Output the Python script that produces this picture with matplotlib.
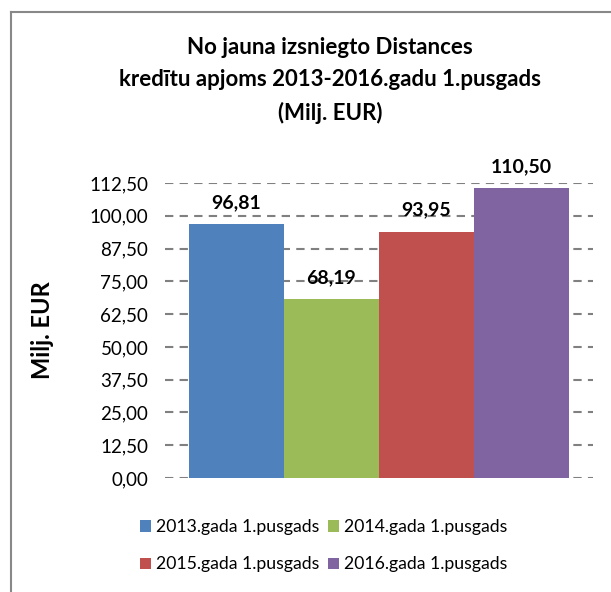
import matplotlib.pyplot as plt
from matplotlib.lines import Line2D

plt.rcParams['font.family'] = ['Lato', 'DejaVu Sans']

categories = ['2013.gada 1.pusgads', '2014.gada 1.pusgads',
              '2015.gada 1.pusgads', '2016.gada 1.pusgads']
values = [96.81, 68.19, 93.95, 110.50]
colors = ['#4f81bd', '#9bbb59', '#c0504d', '#8064a2']
yticks = [0, 12.5, 25, 37.5, 50, 62.5, 75, 87.5, 100, 112.5]

W, H = 611, 592
fig = plt.figure(figsize=(W / 100, H / 100), dpi=100)
ax = fig.add_axes([165 / W, (H - 478) / H, 428 / W, 295 / H])

bars = []
for i, (cat, val, col) in enumerate(zip(categories, values, colors)):
    b = ax.bar(i, val, width=1.0, color=col, label=cat, zorder=3)
    bars.append(b)
    ax.text(i, val + 5, f'{val:.2f}'.replace('.', ','), ha='center', va='bottom',
            fontsize=14, fontweight='bold', color='black')

ax.set_ylim(0, 112.5)
ax.set_xlim(-0.75, 3.75)
ax.set_yticks(yticks)
ax.set_yticklabels([f'{t:.2f}'.replace('.', ',') for t in yticks], fontsize=13.5)
ax.set_xticks([])
ax.tick_params(axis='y', length=0, pad=12)
ax.yaxis.grid(True, color='#808080', linestyle=(0, (4, 3)), linewidth=1.5, zorder=0)
for s in ax.spines.values():
    s.set_visible(False)
ax.set_ylabel('Milj. EUR', fontsize=17, fontweight='bold')
ax.yaxis.set_label_coords(-(165 - 54) / 428, 0.5)

fig.suptitle('No jauna izsniegto Distances\nkredītu apjoms 2013-2016.gadu 1.pusgads\n(Milj. EUR)',
             x=0.54, y=0.938, fontsize=16, fontweight='bold', linespacing=1.65)

# row-major legend order as in the reference
order = [0, 2, 1, 3]
fig.legend(handles=[bars[k][0] for k in order], labels=[categories[k] for k in order],
           loc='center', bbox_to_anchor=(0.53, 0.078), ncol=2, frameon=False,
           fontsize=12.7, handlelength=0.6, handleheight=0.6, handletextpad=0.3,
           columnspacing=0.5, labelspacing=1.2)

# outer border of the chart area (top and left visible)
fig.add_artist(Line2D([11 / W, 11 / W], [0, 1 - 12 / H], transform=fig.transFigure,
                      color='#888888', linewidth=1.5))
fig.add_artist(Line2D([11 / W, 1], [1 - 12 / H, 1 - 12 / H], transform=fig.transFigure,
                      color='#888888', linewidth=1.5))

fig.savefig('out.png', dpi=100)
